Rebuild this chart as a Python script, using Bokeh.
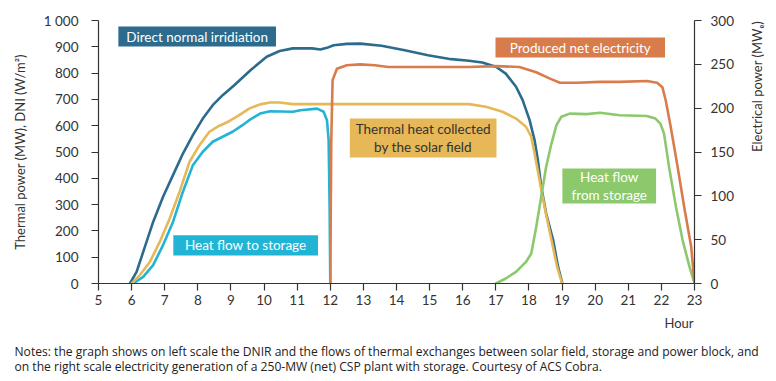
import math
from bokeh.plotting import figure
from bokeh.models import Range1d, LinearAxis, FixedTicker, BoxAnnotation, Label, Title
from bokeh.embed import file_html
from bokeh.resources import INLINE

# ---------------- data ----------------
dni_hours = [5.95, 6.15, 6.35, 6.65, 6.95, 7.25, 7.55, 7.85, 8.15, 8.45, 8.75, 9.10, 9.59, 10.08,
             10.47, 10.87, 11.1, 11.45, 11.7, 11.9, 12.1, 12.5, 12.9, 13.55, 14.25, 14.95, 15.65,
             16.19, 16.59, 17.0, 17.30, 17.61, 17.81, 18.02, 18.17, 18.27, 18.37, 18.52, 18.73,
             18.88, 19.01]
dni_values = [0, 44, 120, 234, 330, 412, 494, 564, 627, 678, 716, 754, 811, 862,
              884, 894, 894, 894, 890, 896, 906, 911, 912, 904, 887, 868, 853,
              847, 840, 824, 798, 748, 697, 621, 545, 469, 368, 266, 165,
              63, 0]

field_hours = [6.0, 6.25, 6.55, 6.85, 7.15, 7.45, 7.75, 8.05, 8.35, 8.65, 8.95, 9.25, 9.55, 9.88,
               10.18, 10.47, 10.87, 12.0, 14.0, 16.19, 16.70, 17.2, 17.61, 17.91, 18.07, 18.17,
               18.32, 18.47, 18.68, 18.85, 19.0]
field_values = [0, 32, 82, 158, 247, 349, 463, 526, 577, 600, 617, 640, 665, 681,
                688, 688, 682, 682, 682, 682, 672, 653, 627, 596, 558, 494,
                393, 292, 165, 63, 0]

to_storage_hours = [6.05, 6.35, 6.65, 6.95, 7.25, 7.55, 7.85, 8.15, 8.45, 8.75, 9.05, 9.35, 9.55,
                    9.88, 10.18, 10.87, 11.1, 11.6, 11.8, 11.9, 11.95, 11.98, 12.0]
to_storage_values = [0, 25, 70, 146, 234, 349, 450, 501, 539, 558, 577, 602, 621,
                     646, 655, 653, 659, 665, 653, 621, 545, 292, 0]

from_storage_hours = [17.0, 17.3, 17.61, 17.91, 18.07, 18.22, 18.37, 18.52, 18.68, 18.83, 18.98,
                      19.23, 19.74, 20.15, 20.74, 21.56, 21.82, 21.97, 22.08, 22.23, 22.44, 22.64,
                      22.85, 23.0]
from_storage_values = [0, 19, 44, 82, 114, 215, 330, 444, 532, 602, 634,
                       646, 644, 649, 640, 637, 627, 608, 570, 444, 292, 165,
                       63, 0]

elec_hours = [12.0, 12.03, 12.07, 12.2, 12.5, 12.9, 13.35, 13.75, 14.95, 16.19, 17.0, 17.71, 18.22,
              18.62, 18.93, 19.44, 20.15, 20.74, 21.56, 21.87, 22.03, 22.13, 22.28, 22.49, 22.69,
              22.9, 23.0]
elec_values = [0, 163, 232, 245, 249, 250, 249, 247, 247, 247, 248, 247, 241,
               234, 229, 229, 230, 230, 231, 229, 224, 209, 179, 133, 87,
               42, 0]

x_ticks = list(range(5, 24))
left_ticks = list(range(0, 1001, 100))
left_tick_labels = {1000: "1 000"}
right_ticks = list(range(0, 301, 50))

notes = ("Notes: the graph shows on left scale the DNIR and the flows of thermal exchanges between "
         "solar field, storage and power block, and\n"
         "on the right scale electricity generation of a 250-MW (net) CSP plant with storage. "
         "Courtesy of ACS Cobra.")

# ---------------- styling ----------------
FONT = "Lato"
C_DNI = "#2c6b8e"
C_FIELD = "#e6b858"
C_TO = "#22b4d5"
C_FROM = "#8cc86c"
C_ELEC = "#d97c4b"
AX = "#333333"

p = figure(width=776, height=381, output_backend="svg", toolbar_location=None,
           x_range=Range1d(5, 23), y_range=Range1d(0, 1000),
           min_border_left=98, min_border_right=82, min_border_top=20, min_border_bottom=98)
p.outline_line_color = None
p.grid.visible = False
p.background_fill_color = "white"
p.border_fill_color = "white"

p.extra_y_ranges = {"elec": Range1d(0, 300)}

# axes
xa = p.xaxis[0]
xa.ticker = FixedTicker(ticks=x_ticks)
ya = p.yaxis[0]
ya.ticker = FixedTicker(ticks=left_ticks)
ya.major_label_overrides = left_tick_labels
ya.axis_label = "Thermal power (MW), DNI (W/m²)"

ra = LinearAxis(y_range_name="elec", ticker=FixedTicker(ticks=right_ticks),
                axis_label="Electrical power (MWₑ)")
p.add_layout(ra, "right")

for ax in (xa, ya, ra):
    ax.axis_line_color = AX
    ax.axis_line_width = 1.2
    ax.major_tick_line_color = AX
    ax.major_tick_line_width = 1.2
    ax.major_tick_out = 7
    ax.major_tick_in = 0
    ax.minor_tick_line_color = None
    ax.major_label_text_font = FONT
    ax.major_label_text_font_size = "13.5px"
    ax.major_label_text_color = AX
    ax.axis_label_text_font = FONT
    ax.axis_label_text_font_size = "13px"
    ax.axis_label_text_font_style = "normal"
    ax.axis_label_text_color = AX
ya.major_label_standoff = 13
ra.major_label_standoff = 9
xa.major_label_standoff = 4
ya.axis_label_standoff = 13
ra.axis_label_standoff = 20
ra.axis_label_orientation = math.pi / 2

# lines
lw = 2.6
p.line(dni_hours, dni_values, line_color=C_DNI, line_width=lw, line_join="round", line_cap="round")
p.line(to_storage_hours, to_storage_values, line_color=C_TO, line_width=lw, line_join="round", line_cap="round")
p.line(field_hours, field_values, line_color=C_FIELD, line_width=lw, line_join="round", line_cap="round")
p.line(from_storage_hours, from_storage_values, line_color=C_FROM, line_width=lw, line_join="round", line_cap="round")
p.line(elec_hours, elec_values, line_color=C_ELEC, line_width=lw, line_join="round", line_cap="round",
       y_range_name="elec")

# labelled boxes (annotation positions in data units)
boxes = [
    # left, right, bottom, top, text, fill, text colour
    (5.60, 10.36, 901, 977, "Direct normal irridiation", C_DNI, "white"),
    (7.26, 11.63, 106, 183, "Heat flow to storage", C_TO, "white"),
    (12.59, 17.02, 479, 627, "Thermal heat collected\nby the solar field", C_FIELD, "#333333"),
    (19.01, 21.84, 304, 437, "Heat flow\nfrom storage", C_FROM, "white"),
    (16.99, 22.11, 859, 935, "Produced net electricity", C_ELEC, "white"),
]
for l, r, b, t, txt, fill, tc in boxes:
    p.add_layout(BoxAnnotation(left=l, right=r, bottom=b, top=t, fill_color=fill, fill_alpha=1.0,
                               line_color=None, level="overlay"))
    p.add_layout(Label(x=(l + r) / 2, y=(b + t) / 2, text=txt, text_align="center",
                       text_baseline="middle", text_color=tc, text_font=FONT,
                       text_font_size="13.5px", text_line_height=1.1, level="overlay"))

# "Hour" and the notes under the chart
p.add_layout(Title(text="Hour", align="right", offset=1, standoff=10, text_font=FONT,
                   text_font_size="13px", text_font_style="normal", text_color=AX), "below")
p.add_layout(Title(text=notes, align="left", offset=-84, standoff=12, text_font="Open Sans",
                   text_font_size="12.1px", text_font_style="normal", text_color="#222222",
                   text_line_height=0.9), "below")

open("out.html", "w").write(file_html(p, INLINE))
